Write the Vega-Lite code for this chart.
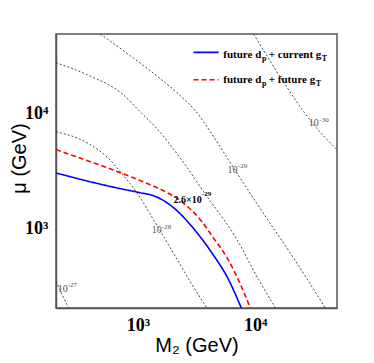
{
  "$schema": "https://vega.github.io/schema/vega-lite/v6.json",
  "width": 281,
  "height": 274,
  "autosize": {"type": "none"},
  "padding": {"left": 56, "top": 34, "right": 37, "bottom": 55},
  "background": "white",
  "config": {"view": {"stroke": "#555", "strokeWidth": 1.5}},
  "datasets": {
    "contours": [
      {"contour": "1e-27", "M": 200, "mu": 342},
      {"contour": "1e-27", "M": 226, "mu": 262},
      {"contour": "1e-27", "M": 256, "mu": 200},
      {"contour": "1e-28", "M": 200, "mu": 6981},
      {"contour": "1e-28", "M": 380, "mu": 5483},
      {"contour": "1e-28", "M": 601, "mu": 3791},
      {"contour": "1e-28", "M": 684, "mu": 3246},
      {"contour": "1e-28", "M": 982, "mu": 2030},
      {"contour": "1e-28", "M": 1408, "mu": 1116},
      {"contour": "1e-28", "M": 1954, "mu": 635},
      {"contour": "1e-28", "M": 2895, "mu": 320},
      {"contour": "1e-28", "M": 3887, "mu": 200},
      {"contour": "2.6e-29", "M": 200, "mu": 28040},
      {"contour": "2.6e-29", "M": 380, "mu": 21710},
      {"contour": "2.6e-29", "M": 732, "mu": 15015},
      {"contour": "2.6e-29", "M": 1084, "mu": 10034},
      {"contour": "2.6e-29", "M": 1408, "mu": 7676},
      {"contour": "2.6e-29", "M": 2378, "mu": 3915},
      {"contour": "2.6e-29", "M": 3636, "mu": 2084},
      {"contour": "2.6e-29", "M": 7008, "mu": 792},
      {"contour": "2.6e-29", "M": 10714, "mu": 354},
      {"contour": "2.6e-29", "M": 14963, "mu": 200},
      {"contour": "1e-29", "M": 478, "mu": 50000},
      {"contour": "1e-29", "M": 861, "mu": 32290},
      {"contour": "1e-29", "M": 1553, "mu": 20320},
      {"contour": "1e-29", "M": 2300, "mu": 14420},
      {"contour": "1e-29", "M": 3089, "mu": 10660},
      {"contour": "1e-29", "M": 4313, "mu": 6573},
      {"contour": "1e-29", "M": 6143, "mu": 3738},
      {"contour": "1e-29", "M": 11521, "mu": 1393},
      {"contour": "1e-29", "M": 22035, "mu": 519},
      {"contour": "1e-29", "M": 39720, "mu": 200},
      {"contour": "1e-30", "M": 9711, "mu": 50000},
      {"contour": "1e-30", "M": 17405, "mu": 19120},
      {"contour": "1e-30", "M": 30180, "mu": 8540},
      {"contour": "1e-30", "M": 50000, "mu": 4858}
    ],
    "curves": [
      {"curve": "current", "M": 200, "mu": 3037},
      {"curve": "current", "M": 380, "mu": 2565},
      {"curve": "current", "M": 732, "mu": 2200},
      {"curve": "current", "M": 1014, "mu": 2055},
      {"curve": "current", "M": 1408, "mu": 1895},
      {"curve": "current", "M": 1954, "mu": 1550},
      {"curve": "current", "M": 3089, "mu": 950},
      {"curve": "current", "M": 4287, "mu": 606},
      {"curve": "current", "M": 5941, "mu": 354},
      {"curve": "current", "M": 7626, "mu": 200},
      {"curve": "future", "M": 200, "mu": 4858},
      {"curve": "future", "M": 393, "mu": 3814},
      {"curve": "future", "M": 707, "mu": 3056},
      {"curve": "future", "M": 1157, "mu": 2498},
      {"curve": "future", "M": 1713, "mu": 2084},
      {"curve": "future", "M": 2300, "mu": 1738},
      {"curve": "future", "M": 3407, "mu": 1185},
      {"curve": "future", "M": 4399, "mu": 825},
      {"curve": "future", "M": 5758, "mu": 551},
      {"curve": "future", "M": 7190, "mu": 354},
      {"curve": "future", "M": 9104, "mu": 200}
    ],
    "xticks": [
      {"M": 300, "kind": "minor"}, {"M": 400, "kind": "minor"}, {"M": 500, "kind": "minor"},
      {"M": 600, "kind": "minor"}, {"M": 700, "kind": "minor"}, {"M": 800, "kind": "minor"},
      {"M": 900, "kind": "minor"}, {"M": 1000, "kind": "major"}, {"M": 2000, "kind": "minor"},
      {"M": 3000, "kind": "minor"}, {"M": 4000, "kind": "minor"}, {"M": 5000, "kind": "minor"},
      {"M": 6000, "kind": "minor"}, {"M": 7000, "kind": "minor"}, {"M": 8000, "kind": "minor"},
      {"M": 9000, "kind": "minor"}, {"M": 10000, "kind": "major"}, {"M": 20000, "kind": "minor"},
      {"M": 30000, "kind": "minor"}, {"M": 40000, "kind": "minor"}
    ],
    "yticks": [
      {"mu": 300, "kind": "minor"}, {"mu": 400, "kind": "minor"}, {"mu": 500, "kind": "minor"},
      {"mu": 600, "kind": "minor"}, {"mu": 700, "kind": "minor"}, {"mu": 800, "kind": "minor"},
      {"mu": 900, "kind": "minor"}, {"mu": 1000, "kind": "major"}, {"mu": 2000, "kind": "minor"},
      {"mu": 3000, "kind": "minor"}, {"mu": 4000, "kind": "minor"}, {"mu": 5000, "kind": "minor"},
      {"mu": 6000, "kind": "minor"}, {"mu": 7000, "kind": "minor"}, {"mu": 8000, "kind": "minor"},
      {"mu": 9000, "kind": "minor"}, {"mu": 10000, "kind": "major"}, {"mu": 20000, "kind": "minor"},
      {"mu": 30000, "kind": "minor"}, {"mu": 40000, "kind": "minor"}
    ],
    "tickLengths": [
      {"kind": "major", "xEnd": 237, "yEnd": 235},
      {"kind": "minor", "xEnd": 218, "yEnd": 217}
    ],
    "legendLines": [
      {"curve": "current", "M": 2987, "M2": 4882, "mu": 34510},
      {"curve": "future", "M": 2987, "M2": 4882, "mu": 19910}
    ],
    "labels": [
      {"role": "leg", "text": "future d", "M": 5353, "mu": 32950},
      {"role": "legsub", "text": "p", "M": 11476, "mu": 30400},
      {"role": "leg", "text": "+ current g", "M": 13091, "mu": 32950},
      {"role": "legsub", "text": "T", "M": 37100, "mu": 30400},
      {"role": "leg", "text": "future d", "M": 5353, "mu": 19710},
      {"role": "legsub", "text": "p", "M": 11476, "mu": 18180},
      {"role": "leg", "text": "+ future g", "M": 13091, "mu": 19710},
      {"role": "legsub", "text": "T", "M": 32970, "mu": 18180},
      {"role": "cl", "text": "10", "M": 207, "mu": 295},
      {"role": "clsup", "text": "-27", "M": 252, "mu": 320},
      {"role": "cl", "text": "10", "M": 1314, "mu": 959},
      {"role": "clsup", "text": "-28", "M": 1599, "mu": 1029},
      {"role": "cl", "text": "10", "M": 5826, "mu": 3246},
      {"role": "clsup", "text": "-29", "M": 7119, "mu": 3518},
      {"role": "cl", "text": "10", "M": 28720, "mu": 8286},
      {"role": "clsup", "text": "-30", "M": 35310, "mu": 8804},
      {"role": "bl", "text": "2.6×10", "M": 2016, "mu": 1756},
      {"role": "blsup", "text": "-29", "M": 3510, "mu": 2001}
    ]
  },
  "encoding": {
    "x": {
      "field": "M",
      "type": "quantitative",
      "scale": {"type": "log", "domain": [200, 50000], "nice": false},
      "axis": {
        "title": "M₂ (GeV)",
        "values": [1000, 10000],
        "labelExpr": "datum.value == 1000 ? '10³' : datum.value == 10000 ? '10⁴' : ''",
        "labelFont": "Liberation Serif",
        "labelFontWeight": "bold",
        "labelFontSize": 18,
        "labelColor": "black",
        "labelPadding": 8,
        "labelFlush": false,
        "labelOverlap": false,
        "ticks": false,
        "grid": false,
        "domainColor": "#555",
        "domainWidth": 1.5,
        "titleFont": "Liberation Sans",
        "titleFontSize": 20,
        "titleFontWeight": "normal",
        "titleColor": "black",
        "titleBaseline": "alphabetic",
        "titleY": 43
      }
    },
    "y": {
      "field": "mu",
      "type": "quantitative",
      "scale": {"type": "log", "domain": [200, 50000], "nice": false},
      "axis": {
        "title": "μ (GeV)",
        "values": [1000, 10000],
        "labelExpr": "datum.value == 1000 ? '10³' : datum.value == 10000 ? '10⁴' : ''",
        "labelFont": "Liberation Serif",
        "labelFontWeight": "bold",
        "labelFontSize": 18,
        "labelColor": "black",
        "labelPadding": 8,
        "labelFlush": false,
        "labelOverlap": false,
        "ticks": false,
        "grid": false,
        "domainColor": "#555",
        "domainWidth": 1.5,
        "titleFont": "Liberation Sans",
        "titleFontSize": 20,
        "titleFontWeight": "normal",
        "titleColor": "black",
        "titleBaseline": "alphabetic",
        "titleX": -31,
        "titleY": 124
      }
    }
  },
  "layer": [
    {
      "data": {"name": "contours"},
      "mark": {"type": "line", "clip": true, "color": "#333", "strokeWidth": 0.9, "strokeDash": [2, 2], "interpolate": "monotone"},
      "encoding": {"detail": {"field": "contour", "type": "nominal"}}
    },
    {
      "data": {"name": "curves"},
      "mark": {"type": "line", "clip": true, "strokeWidth": 1.6, "interpolate": "monotone"},
      "encoding": {
        "color": {"field": "curve", "type": "nominal", "scale": {"domain": ["current", "future"], "range": ["#0000ff", "#ff0000"]}, "legend": null},
        "strokeDash": {"field": "curve", "type": "nominal", "scale": {"domain": ["current", "future"], "range": [[1, 0], [5, 3]]}, "legend": null}
      }
    },
    {
      "data": {"name": "xticks"},
      "transform": [{"lookup": "kind", "from": {"data": {"name": "tickLengths"}, "key": "kind", "fields": ["xEnd"]}}],
      "mark": {"type": "rule", "color": "#444", "strokeWidth": 1.2, "opacity": 1},
      "encoding": {
        "y": {"datum": 200, "type": "quantitative"},
        "y2": {"field": "xEnd"}
      }
    },
    {
      "data": {"name": "yticks"},
      "transform": [{"lookup": "kind", "from": {"data": {"name": "tickLengths"}, "key": "kind", "fields": ["yEnd"]}}],
      "mark": {"type": "rule", "color": "#444", "strokeWidth": 1.2, "opacity": 1},
      "encoding": {
        "x": {"datum": 200, "type": "quantitative"},
        "x2": {"field": "yEnd"}
      }
    },
    {
      "data": {"name": "legendLines"},
      "mark": {"type": "rule", "strokeWidth": 1.6},
      "encoding": {
        "x2": {"field": "M2"},
        "color": {"field": "curve", "type": "nominal", "legend": null},
        "strokeDash": {"field": "curve", "type": "nominal", "legend": null}
      }
    },
    {
      "data": {"name": "labels"},
      "transform": [{"filter": "datum.role == 'leg'"}],
      "mark": {"type": "text", "align": "left", "baseline": "middle", "font": "Liberation Serif", "fontWeight": "bold", "fontSize": 11, "color": "black"},
      "encoding": {"text": {"field": "text"}}
    },
    {
      "data": {"name": "labels"},
      "transform": [{"filter": "datum.role == 'legsub'"}],
      "mark": {"type": "text", "align": "left", "baseline": "middle", "font": "Liberation Serif", "fontWeight": "bold", "fontSize": 8, "color": "black"},
      "encoding": {"text": {"field": "text"}}
    },
    {
      "data": {"name": "labels"},
      "transform": [{"filter": "datum.role == 'cl'"}],
      "mark": {"type": "text", "align": "left", "baseline": "middle", "font": "Liberation Serif", "fontSize": 10, "color": "#555"},
      "encoding": {"text": {"field": "text"}}
    },
    {
      "data": {"name": "labels"},
      "transform": [{"filter": "datum.role == 'clsup'"}],
      "mark": {"type": "text", "align": "left", "baseline": "middle", "font": "Liberation Serif", "fontSize": 7, "color": "#555"},
      "encoding": {"text": {"field": "text"}}
    },
    {
      "data": {"name": "labels"},
      "transform": [{"filter": "datum.role == 'bl'"}],
      "mark": {"type": "text", "align": "left", "baseline": "middle", "font": "Liberation Serif", "fontWeight": "bold", "fontSize": 10, "color": "black"},
      "encoding": {"text": {"field": "text"}}
    },
    {
      "data": {"name": "labels"},
      "transform": [{"filter": "datum.role == 'blsup'"}],
      "mark": {"type": "text", "align": "left", "baseline": "middle", "font": "Liberation Serif", "fontWeight": "bold", "fontSize": 7, "color": "black"},
      "encoding": {"text": {"field": "text"}}
    }
  ]
}
